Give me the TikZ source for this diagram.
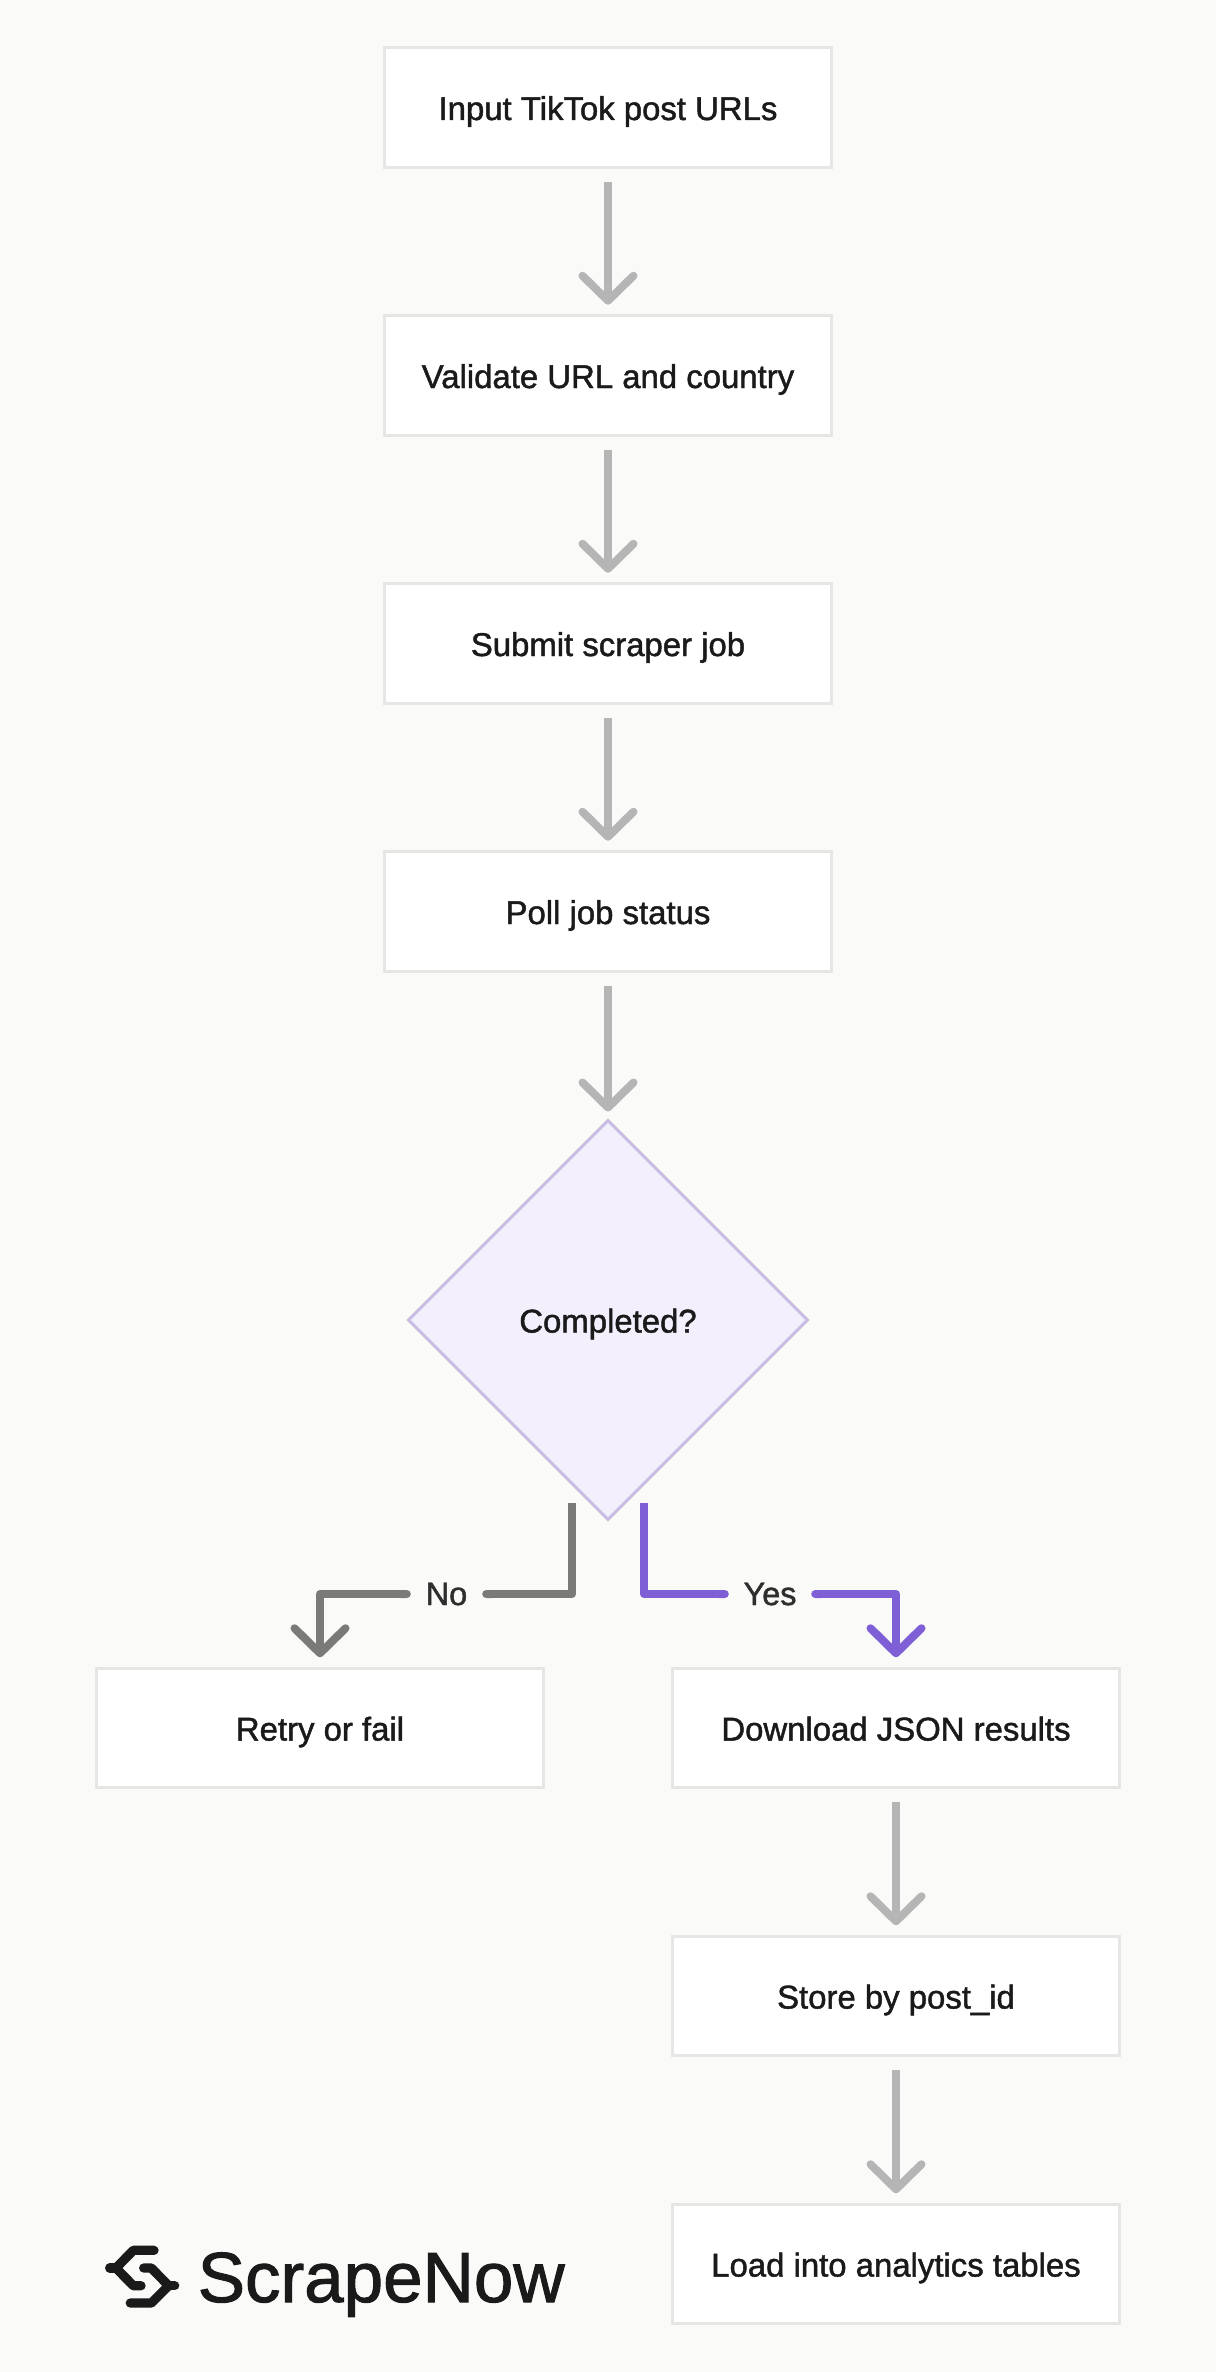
\documentclass[tikz,border=0pt]{standalone}
\usepackage{fontspec}
\setmainfont{Liberation Sans}
\newfontfamily\medfont[FakeBold=1.4]{Liberation Sans}
\usetikzlibrary{shapes.geometric,arrows.meta}
\definecolor{bgc}{HTML}{FAFAF8}
\definecolor{bordc}{HTML}{E6E6E4}
\definecolor{inkc}{HTML}{1A1A1A}
\definecolor{labc}{HTML}{2E2E2E}
\definecolor{flowc}{HTML}{B5B5B5}
\definecolor{noc}{HTML}{7A7A78}
\definecolor{yesc}{HTML}{7F5FD6}
\definecolor{diaf}{HTML}{F3EFFD}
\definecolor{diad}{HTML}{C9BEE0}
\tikzset{
  x=1bp,y=-1bp,
  bodytext/.style={font=\medfont\fontsize{32.9bp}{38bp}\selectfont,text=inkc,text height=25bp,text depth=0bp,inner sep=0pt,align=center},
  stepbox/.style={bodytext,draw=bordc,fill=white,line width=3bp,minimum width=447.5bp,minimum height=119.5bp},
  decision/.style={bodytext,shape=diamond,aspect=1,draw=diad,fill=diaf,line width=3bp,minimum width=399bp,minimum height=399bp,outer sep=0pt},
  edgelabel/.style={font=\medfont\fontsize{32.4bp}{38bp}\selectfont,text=labc,text height=22bp,text depth=0bp,inner sep=0pt,minimum height=30bp},
  barb/.tip={Straight Barb[length=25bp,width=51bp,round]},
  flow/.style={line width=8bp,draw=flowc,-{barb},shorten <=13bp,shorten >=9.5bp},
  branch/.style={line width=8bp,line join=round},
  logostroke/.style={draw=inkc,line width=9.3bp,line cap=round,line join=round},
}
\begin{document}
\begin{tikzpicture}
\fill[bgc] (0,0) rectangle (1216,2372);
\useasboundingbox (0,0) rectangle (1216,2372);

\node[stepbox] (input) at (608,107.5) {Input TikTok post URLs};
\node[stepbox] (validate) at (608,375.5) {Validate URL and country};
\node[stepbox] (submit) at (608,643.5) {Submit scraper job};
\node[stepbox] (poll) at (608,911.5) {Poll job status};
\node[decision] (done) at (608,1320) {Completed?};
\node[stepbox] (retry) at (320,1728) {Retry or fail};
\node[stepbox] (download) at (896,1728) {Download JSON results};
\node[stepbox] (store) at (896,1996) {Store by post\_id};
\node[stepbox] (load) at (896,2264) {Load into analytics tables};

\draw[flow] (input.south) -- (validate.north);
\draw[flow] (validate.south) -- (submit.north);
\draw[flow] (submit.south) -- (poll.north);
\draw[flow,shorten >=9bp] (poll.south) -- (done.north);
\draw[flow] (download.south) -- (store.north);
\draw[flow] (store.south) -- (load.north);

\node[edgelabel,minimum width=71bp] (nolab) at (446.5,1594) {No};
\node[edgelabel,minimum width=82bp] (yeslab) at (770,1594) {Yes};
\coordinate (nostart) at (572,1502.7);
\coordinate (noelbow) at (572,1594);
\coordinate (nodrop) at (320,1594);
\coordinate (yesstart) at (644,1502.7);
\coordinate (yeselbow) at (644,1594);
\coordinate (yesdrop) at (896,1594);

\draw[branch,draw=noc,-{Round Cap}] (nostart) -- (noelbow) -- (nolab.east);
\draw[branch,draw=noc,{Round Cap}-{barb},shorten >=9.5bp] (nolab.west) -- (nodrop) -- (retry.north);
\draw[branch,draw=yesc,-{Round Cap}] (yesstart) -- (yeselbow) -- (yeslab.west);
\draw[branch,draw=yesc,{Round Cap}-{barb},shorten >=9.5bp] (yeslab.east) -- (yesdrop) -- (download.north);

\draw[logostroke] (154,2250.3) -- (133.3,2250.3) -- (116,2268) -- (133.3,2285.7) -- (141,2285.7);
\draw[logostroke] (109.7,2268) -- (116,2268);
\draw[logostroke] (130.3,2303) -- (151.3,2303) -- (168.7,2285.7) -- (151.3,2268) -- (143.7,2268);
\draw[logostroke] (174.7,2285.7) -- (168.7,2285.7);
\node[anchor=base west,inner sep=0pt,text=inkc,font=\medfont\fontsize{71bp}{80bp}\selectfont] (brand) at (197.5,2302) {ScrapeNow};
\end{tikzpicture}
\end{document}
